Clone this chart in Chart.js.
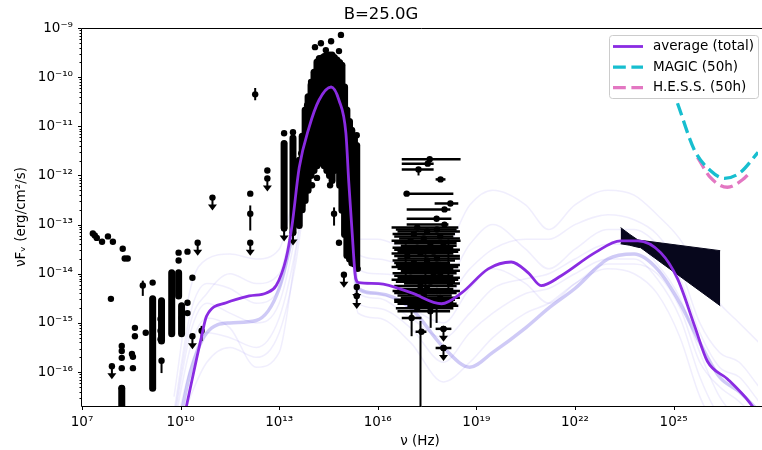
<!DOCTYPE html>
<html>
<head>
<meta charset="utf-8">
<script src="https://cdn.jsdelivr.net/npm/chart.js@4/dist/chart.umd.min.js"></script>
<style>
  html, body { margin: 0; padding: 0; background: #fff; }
</style>
</head>
<body>
<canvas id="chart" width="762" height="450"></canvas>
<script>
// all values are log10(nu / Hz) and log10(nuFnu / erg cm^-2 s^-1)
const xTickExps = [7, 10, 13, 16, 19, 22, 25];
const yTickExps = [-16, -15, -14, -13, -12, -11, -10, -9];

// average model (total)
const avgNu = [10.10, 10.18, 10.64, 10.79, 11.39, 12.09, 12.61, 12.91, 13.21, 13.39, 13.61, 13.91, 14.21, 14.58, 14.82, 15.03, 15.12, 15.21, 15.33, 15.42, 16.03, 17.03, 17.94, 18.55, 19.36, 20.06, 20.58, 20.97, 21.58, 22.61, 23.39, 23.91, 24.61, 25.12, 25.64, 26.03, 26.64, 27.33, 27.6];
const avgFlux = [-16.95, -16.69, -15.27, -14.86, -14.59, -14.45, -14.39, -14.24, -13.69, -13.02, -11.84, -11.02, -10.47, -10.20, -10.47, -11.14, -12.16, -13.06, -14.10, -14.18, -14.20, -14.39, -14.61, -14.39, -13.90, -13.76, -13.98, -14.24, -14.04, -13.57, -13.33, -13.33, -13.57, -14.10, -15.06, -15.78, -16.14, -16.63, -16.9];

// individual model realisations (faint)
const gridNu = [9.8, 10.3, 10.8, 11.5, 12.3, 13.0, 13.5, 14.0, 14.5, 15.0, 15.4, 16.0, 17.0, 18.0, 18.8, 19.5, 20.5, 21.2, 22.0, 23.0, 23.8, 24.5, 25.2, 25.8, 26.4, 27.0, 27.6];
const run1 = [-16.5, -14.3, -13.7, -13.6, -13.7, -13.5, -12.2, -10.5, -10.0, -10.8, -13.3, -13.3, -13.5, -13.5, -12.6, -12.3, -12.6, -13.1, -12.6, -12.3, -12.4, -12.8, -13.3, -14.0, -14.6, -15.0, -15.4];
const run2 = [-17.5, -16.5, -15.8, -15.5, -15.7, -15.2, -13.8, -11.5, -10.8, -11.5, -14.8, -14.9, -15.4, -16.2, -15.8, -15.3, -14.8, -14.6, -14.2, -13.9, -14.0, -14.4, -15.3, -16.5, -17.2, -17.5, -18.0];
const run3 = [-17.0, -15.2, -14.6, -14.8, -15.0, -14.6, -13.2, -11.2, -10.5, -11.2, -14.4, -14.5, -14.9, -15.3, -14.8, -14.3, -14.1, -14.0, -13.7, -13.4, -13.4, -13.8, -14.5, -15.6, -16.5, -17.0, -17.5];
const run4 = [-16.8, -14.8, -14.2, -14.3, -14.6, -14.3, -12.9, -10.9, -10.3, -11.0, -13.9, -14.0, -14.1, -14.5, -13.9, -13.5, -13.3, -13.3, -13.0, -12.8, -12.9, -13.2, -13.9, -15.0, -15.6, -15.8, -16.3];
const run5 = [-17.3, -15.9, -15.2, -15.3, -15.5, -14.9, -13.5, -11.3, -10.6, -11.3, -14.6, -14.7, -15.1, -15.8, -15.2, -14.8, -14.4, -14.3, -14.0, -13.7, -13.7, -14.1, -14.9, -16.1, -16.9, -17.2, -17.6];
const run6 = [-17.1, -15.5, -14.9, -15.1, -15.9, -15.6, -13.6, -11.4, -10.6, -11.3, -14.3, -14.4, -14.7, -15.0, -14.3, -13.9, -14.2, -14.6, -14.2, -13.8, -13.8, -14.0, -14.7, -15.8, -16.3, -16.6, -17.0];
const run7 = [-16.9, -15.0, -14.4, -14.0, -14.2, -14.0, -12.6, -10.7, -10.2, -10.9, -13.6, -13.7, -13.9, -14.2, -13.4, -13.0, -13.5, -13.9, -13.5, -13.1, -13.1, -13.4, -14.1, -15.2, -15.9, -16.1, -16.6];
const runBand = [-17.6, -16.0, -15.2, -15.0, -14.95, -14.3, -12.9, -11.0, -10.4, -11.1, -14.3, -14.4, -14.7, -15.5, -15.9, -15.6, -15.1, -14.7, -14.3, -13.7, -13.6, -13.9, -14.6, -15.4, -16.1, -16.4, -16.8];

// sensitivity curves
const magicNu = [25.12, 25.64, 26.12, 26.55, 27.03, 27.57];
const magicFlux = [-10.53, -11.49, -11.90, -12.06, -11.94, -11.53];
const hessNu = [25.73, 26.12, 26.64, 27.15, 27.30];
const hessFlux = [-11.63, -12.04, -12.24, -12.06, -11.96];

// gamma-ray bow tie
const bowNu = [23.39, 23.67, 23.91, 24.00, 26.42];
const bowTop = [-13.06, -13.20, -13.31, -13.32, -13.53];
const bowBottom = [-13.39, -13.42, -13.46, -13.47, -14.65];

// measured points
const dots = [
  [7.33, -13.18], [7.39, -13.22], [7.45, -13.27], [7.61, -13.35], [7.79, -13.24], [7.94, -13.35],
  [8.24, -13.49], [8.30, -13.69], [8.39, -13.69], [7.88, -14.51], [9.15, -14.18],
  [8.61, -15.10], [8.61, -15.27], [8.94, -15.20], [8.21, -15.47], [8.21, -15.57], [8.21, -15.71],
  [8.21, -15.92], [8.52, -15.63], [8.55, -15.69], [8.55, -15.92], [8.21, -16.33],
  [9.39, -14.92], [9.39, -15.16], [9.39, -15.33], [9.94, -13.57], [10.21, -13.55], [9.94, -13.73],
  [10.21, -14.59], [10.21, -14.80], [10.03, -14.90], [10.36, -14.08],
  [8.85, -14.24], [9.42, -15.77], [10.64, -15.16], [12.27, -10.35], [12.12, -12.78], [12.12, -12.37],
  [12.64, -11.90], [13.15, -11.14], [13.42, -11.12], [14.27, -9.31], [14.58, -9.27], [14.88, -9.14],
  [14.82, -9.47], [14.42, -9.45], [14.09, -9.39], [13.97, -10.10], [15.12, -11.02], [15.36, -11.18],
  [14.55, -12.20], [14.82, -13.37], [13.67, -11.55], [13.85, -10.57], [14.67, -12.78],
  [15.39, -13.90], [15.30, -12.30], [14.00, -12.20], [14.15, -12.05], [13.70, -12.60]
];
// dense runs of overlapping points: [nu, top, bottom]
const columns = [
  [8.21, -16.33, -16.8], [9.15, -14.51, -16.33], [9.42, -14.55, -15.37], [9.73, -13.98, -15.22],
  [9.94, -13.98, -14.45], [10.03, -14.65, -15.22],
  [13.15, -11.35, -13.06], [13.42, -11.24, -13.16], [13.61, -11.69, -13.02], [13.70, -11.20, -12.70],
  [13.79, -10.67, -12.51], [13.88, -10.40, -12.30], [13.97, -10.16, -12.00], [14.06, -9.90, -11.90],
  [14.15, -9.69, -11.80], [14.22, -9.62, -11.75], [14.30, -9.61, -11.69], [14.37, -9.58, -11.80],
  [14.45, -9.55, -11.90], [14.53, -9.55, -12.00], [14.61, -9.55, -12.10], [14.68, -9.60, -11.90],
  [14.76, -9.65, -11.69], [14.84, -9.70, -12.20], [14.91, -9.76, -12.71], [14.99, -10.20, -13.20],
  [15.06, -10.67, -13.63], [15.14, -10.90, -13.70], [15.21, -11.08, -13.78], [15.29, -11.20, -13.80],
  [15.36, -11.39, -13.84]
];
// vertical error bars: [nu, top, bottom]
const vBars = [
  [8.85, -14.14, -14.45], [9.42, -15.71, -16.02], [10.64, -15.06, -15.37], [12.27, -10.22, -10.47],
  [12.12, -12.61, -13.12], [14.67, -12.65, -13.02],
  [17.03, -14.76, -15.27], [17.30, -14.96, -16.9], [17.61, -14.76, -15.10], [17.79, -14.69, -15.00],
  [17.24, -11.88, -12.00], [16.85, -13.40, -14.20], [17.45, -13.60, -14.50], [18.15, -13.30, -14.40]
];
// horizontal error bars: [nu, nuLow, nuHigh, flux]
const xBars = [
  [17.58, 16.73, 18.52, -11.67], [17.52, 16.73, 17.70, -11.76], [17.24, 16.73, 17.70, -11.88],
  [17.91, 17.76, 18.06, -12.08], [16.88, 16.79, 18.30, -12.37], [18.21, 17.73, 18.45, -12.57],
  [18.03, 16.88, 18.21, -12.69], [17.79, 16.88, 18.24, -12.88], [18.03, 16.88, 18.15, -13.00],
  [17.2, 16.42, 18.45, -13.06], [17.8, 16.55, 18.40, -13.10], [17.5, 16.60, 18.50, -13.14],
  [17.1, 16.45, 18.35, -13.19], [17.9, 16.50, 18.30, -13.24], [17.4, 16.65, 18.50, -13.28],
  [17.0, 16.42, 18.52, -13.33], [18.0, 16.50, 18.40, -13.38], [17.6, 16.70, 18.40, -13.43],
  [17.2, 16.45, 18.30, -13.47], [18.1, 16.50, 18.50, -13.51], [17.7, 16.60, 18.45, -13.55],
  [17.3, 16.42, 18.30, -13.59], [16.9, 16.50, 18.50, -13.64], [17.8, 16.60, 18.50, -13.69],
  [17.5, 16.45, 18.35, -13.73], [17.1, 16.50, 18.20, -13.78], [17.9, 16.55, 18.50, -13.82],
  [18.0, 16.42, 18.45, -13.86], [17.2, 16.60, 18.30, -13.90], [17.4, 16.70, 18.50, -13.94],
  [17.9, 16.45, 18.40, -13.99], [17.7, 16.50, 18.30, -14.04], [17.0, 16.60, 18.50, -14.08],
  [17.2, 16.42, 18.45, -14.12], [17.6, 16.55, 18.35, -14.16], [18.2, 16.80, 18.50, -14.20],
  [17.3, 16.50, 18.40, -14.25], [17.5, 16.60, 18.30, -14.31], [17.8, 16.45, 18.50, -14.35],
  [17.0, 16.50, 18.40, -14.39], [17.4, 16.60, 18.25, -14.44], [17.9, 16.70, 18.50, -14.49],
  [17.1, 16.50, 18.35, -14.53], [17.3, 16.50, 18.30, -14.57], [17.7, 16.60, 18.40, -14.61],
  [18.1, 16.90, 18.45, -14.65], [17.2, 16.55, 18.30, -14.70], [17.6, 16.60, 18.20, -14.76],
  [17.03, 16.73, 17.33, -14.90], [17.33, 17.15, 17.48, -15.18],
  [18.0, 17.76, 18.24, -15.12], [18.0, 17.76, 18.24, -15.51]
];
// upper limits: [nu, flux]
const upperLims = [
  [7.91, -15.88], [10.52, -13.37], [10.36, -15.27], [10.97, -12.45], [12.12, -13.37], [12.64, -12.06],
  [13.15, -13.08], [13.42, -13.16], [14.97, -14.02], [15.36, -14.27], [15.36, -14.45],
  [18.0, -15.12], [18.0, -15.51]
];

const P = v => Math.pow(10, v);
const pts = (xs, ys) => xs.map((x, i) => ({ x: P(x), y: P(ys[i]) }));
const SUP = { '-': '\u207B', '0': '\u2070', '1': '\u00B9', '2': '\u00B2', '3': '\u00B3', '4': '\u2074', '5': '\u2075', '6': '\u2076', '7': '\u2077', '8': '\u2078', '9': '\u2079' };
const pow10 = v => '10' + String(Math.round(Math.log10(v))).split('').map(c => SUP[c]).join('');

const faint = 'rgba(110, 90, 235, 0.10)';
const runLine = (ys, color, w) => ({
  label: 'run', data: pts(gridNu, ys), showLine: true, pointRadius: 0, borderColor: color,
  borderWidth: w, cubicInterpolationMode: 'monotone', order: 10
});

// error bars, columns of points and upper-limit arrows, drawn under the points
const sedMarks = {
  id: 'sedMarks',
  beforeDatasetDraw(chart, args) {
    if (chart.data.datasets[args.index].label !== 'data') return;
    const ctx = chart.ctx, a = chart.chartArea;
    const X = v => chart.scales.x.getPixelForValue(P(v));
    const Y = v => chart.scales.y.getPixelForValue(P(v));
    const seg = (x1, y1, x2, y2) => { ctx.beginPath(); ctx.moveTo(x1, y1); ctx.lineTo(x2, y2); ctx.stroke(); };
    ctx.save();
    ctx.beginPath(); ctx.rect(a.left, a.top, a.right - a.left, a.bottom - a.top); ctx.clip();
    ctx.strokeStyle = '#000'; ctx.fillStyle = '#000';
    ctx.lineCap = 'round'; ctx.lineWidth = 7;
    columns.forEach(([x, y1, y2]) => seg(X(x), Y(y1), X(x), Y(y2)));
    ctx.lineCap = 'butt'; ctx.lineWidth = 2;
    vBars.forEach(([x, y1, y2]) => seg(X(x), Y(y1), X(x), Y(y2)));
    ctx.lineWidth = 2.5;
    xBars.forEach(([, x1, x2, y]) => seg(X(x1), Y(y), X(x2), Y(y)));
    ctx.lineWidth = 2;
    upperLims.forEach(([x, y]) => {
      const px = X(x), py = Y(y), tip = py + 13;
      seg(px, py, px, tip - 4);
      ctx.beginPath(); ctx.moveTo(px - 4.5, tip - 6); ctx.lineTo(px + 4.5, tip - 6); ctx.lineTo(px, tip); ctx.closePath(); ctx.fill();
    });
    ctx.restore();
  }
};

// spines and tick marks
const frame = {
  id: 'frame',
  afterDatasetsDraw(chart) {
    const ctx = chart.ctx, a = chart.chartArea, xs = chart.scales.x, ys = chart.scales.y;
    const seg = (x1, y1, x2, y2) => { ctx.beginPath(); ctx.moveTo(x1, y1); ctx.lineTo(x2, y2); ctx.stroke(); };
    const L = Math.round(a.left) - 0.5, B = Math.round(a.bottom) + 0.5, T = Math.round(a.top) + 0.5;
    ctx.save();
    ctx.strokeStyle = '#000'; ctx.lineWidth = 1;
    seg(L, T, 762, T); seg(L, T, L, B); seg(L, B, 762, B);
    xTickExps.forEach(e => { const px = Math.round(xs.getPixelForValue(P(e))) + 0.5; seg(px, B, px, B + 3.5); });
    for (let e = -17; e <= -9; e++) {
      for (let m = 1; m <= 9; m++) {
        const v = m * P(e);
        if (v < ys.min || v > ys.max * 1.0001) continue;
        const py = Math.round(ys.getPixelForValue(v)) + 0.5;
        seg(L, py, L - (m === 1 ? 3.5 : 2), py);
      }
    }
    ctx.restore();
  }
};

const legendBox = {
  id: 'legendBox',
  afterDraw(chart) {
    const ctx = chart.ctx;
    const items = chart.data.datasets.filter(d => d.inLegend);
    ctx.save();
    ctx.beginPath();
    ctx.roundRect(609.5, 35.5, 149, 63, 3);
    ctx.fillStyle = 'rgba(255,255,255,0.8)'; ctx.fill();
    ctx.strokeStyle = '#cccccc'; ctx.lineWidth = 1; ctx.stroke();
    ctx.font = '13.5px "DejaVu Sans"'; ctx.textBaseline = 'middle';
    items.forEach((d, i) => {
      const y = 46.5 + i * 20.6;
      ctx.strokeStyle = d.borderColor; ctx.lineWidth = d.borderWidth; ctx.setLineDash(d.borderDash || []);
      ctx.beginPath(); ctx.moveTo(613, y); ctx.lineTo(643, y); ctx.stroke();
      ctx.setLineDash([]);
      ctx.fillStyle = '#000';
      ctx.fillText(d.label, 653, y);
    });
    ctx.restore();
  }
};

Chart.defaults.font.family = '"DejaVu Sans", sans-serif';
Chart.defaults.color = '#000';

new Chart(document.getElementById('chart').getContext('2d'), {
  type: 'scatter',
  data: {
    datasets: [
      { label: 'average (total)', inLegend: true, data: pts(avgNu, avgFlux), showLine: true, pointRadius: 0,
        borderColor: '#8a2be2', borderWidth: 2.8, cubicInterpolationMode: 'monotone', order: 1 },
      { label: 'MAGIC (50h)', inLegend: true, data: pts(magicNu, magicFlux), showLine: true, pointRadius: 0,
        borderColor: '#17becf', borderWidth: 3.3, borderDash: [12.8, 5.6], cubicInterpolationMode: 'monotone', order: 2 },
      { label: 'H.E.S.S. (50h)', inLegend: true, data: pts(hessNu, hessFlux), showLine: true, pointRadius: 0,
        borderColor: '#e377c2', borderWidth: 3.3, borderDash: [12.8, 5.6], cubicInterpolationMode: 'monotone', order: 2 },
      { label: 'bowtie', data: pts(bowNu, bowTop), showLine: true, pointRadius: 0, borderColor: '#07071c',
        borderWidth: 1, backgroundColor: '#07071c', fill: '+1', order: 3 },
      { label: 'bowtie low', data: pts(bowNu, bowBottom), showLine: true, pointRadius: 0, borderColor: '#07071c',
        borderWidth: 1, order: 3 },
      { label: 'limits', data: upperLims.map(([x, y]) => ({ x: P(x), y: P(y) })), pointRadius: 3.2,
        backgroundColor: '#000', borderWidth: 0, order: 4 },
      { label: 'data', data: dots.concat(xBars.map(b => [b[0], b[3]])).map(([x, y]) => ({ x: P(x), y: P(y) })),
        pointRadius: 3.2, backgroundColor: '#000', borderWidth: 0, order: 5 },
      runLine(runBand, 'rgba(95, 80, 225, 0.30)', 3.5),
      runLine(run1, faint, 1.5), runLine(run2, faint, 1.5), runLine(run3, faint, 1.5),
      runLine(run4, faint, 1.5), runLine(run5, faint, 1.5), runLine(run6, faint, 1.5), runLine(run7, faint, 1.5)
    ]
  },
  options: {
    responsive: false,
    animation: false,
    events: [],
    layout: { padding: { left: 0, right: 0, top: 0, bottom: 0 } },
    plugins: {
      legend: { display: false },
      tooltip: { enabled: false },
      title: {
        display: true,
        text: 'B=25.0G',
        font: { size: 16.5, weight: 'normal' },
        color: '#000',
        padding: { top: 5, bottom: 3.2 }
      }
    },
    scales: {
      x: {
        type: 'logarithmic',
        min: P(7),
        max: P(27.57),
        grid: { display: false, drawTicks: false },
        border: { display: false },
        afterBuildTicks: s => { s.ticks = xTickExps.map(e => ({ value: P(e) })); },
        afterFit: s => { s.height = 44; },
        ticks: { autoSkip: false, maxRotation: 0, padding: 8, font: { size: 13.5 }, color: '#000', callback: v => pow10(v) },
        title: { display: true, text: 'ν (Hz)', font: { size: 13.5 }, color: '#000', padding: { top: 0, bottom: 0 } }
      },
      y: {
        type: 'logarithmic',
        min: P(-16.69),
        max: P(-9),
        grid: { display: false, drawTicks: false },
        border: { display: false },
        afterBuildTicks: s => { s.ticks = yTickExps.map(e => ({ value: P(e) })); },
        afterFit: s => { s.width = 82; },
        ticks: { autoSkip: false, padding: 9, font: { size: 13.5 }, color: '#000', callback: v => pow10(v) },
        title: { display: true, text: 'νFᵥ (erg/cm²/s)', font: { size: 13.5 }, color: '#000', padding: { top: 13, bottom: 0 } }
      }
    }
  },
  plugins: [sedMarks, frame, legendBox]
});
</script>
</body>
</html>
